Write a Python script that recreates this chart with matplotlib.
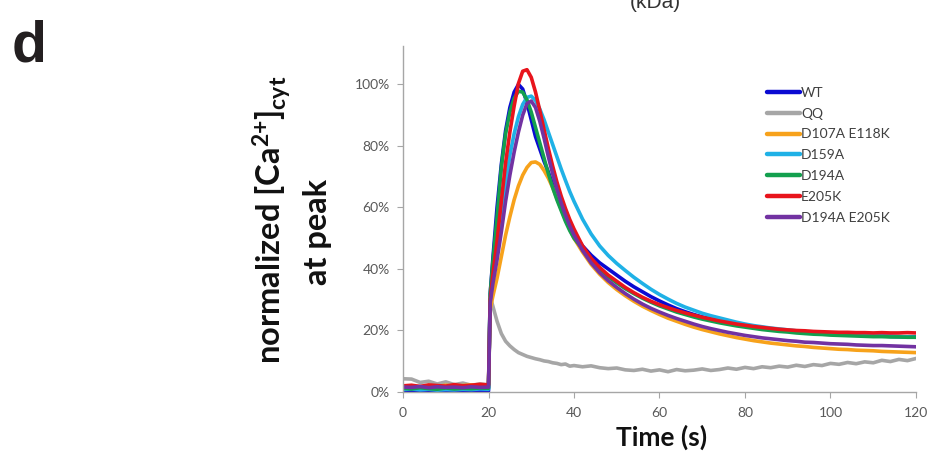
import matplotlib
matplotlib.use("Agg")
import matplotlib.pyplot as plt
from matplotlib.ticker import PercentFormatter, FixedLocator

plt.rcParams["font.family"] = ["Lato", "DejaVu Sans"]
plt.rcParams["mathtext.fontset"] = "custom"
plt.rcParams["mathtext.rm"] = "Lato:bold"
plt.rcParams["mathtext.it"] = "Lato:bold"
plt.rcParams["mathtext.bf"] = "Lato:bold"

# Time points (s)
time_s = [0, 2, 4, 6, 8, 10, 12, 14, 16, 18, 20,
          20.4, 21, 22, 23, 24, 25, 26, 27, 28, 29, 30, 31, 32, 33, 34, 35, 36, 37, 38, 39, 40,
          42, 44, 46, 48, 50, 52, 54, 56, 58, 60, 62, 64, 66, 68, 70, 72, 74, 76, 78, 80,
          82, 84, 86, 88, 90, 92, 94, 96, 98, 100, 102, 104, 106, 108, 110, 112, 114, 116, 118, 120]

# Normalized cytosolic Ca2+ (% of WT peak)
wt = [0.3, 0.2, 0.3, 0.2, 0.3, 0.2, 0.3, 0.2, 0.3, 0.2, 0.3,
      32, 43, 60, 74, 85, 92.5, 97.5, 100, 98.5, 94, 88.5, 83, 79, 75, 71.5, 67.5, 63.5, 60, 57, 54, 51.5,
      47.5, 44.5, 42, 40, 38, 36, 34.2, 32.6, 31, 29.6, 28.3, 27.1, 26.1, 25.2, 24.4, 23.7, 23.1, 22.5, 22, 21.5,
      21.1, 20.7, 20.4, 20.1, 19.8, 19.6, 19.4, 19.2, 19, 18.9, 18.7, 18.6, 18.5, 18.4, 18.3, 18.2, 18.1, 18.0, 17.9, 17.9]

qq = [4.3, 4.2, 3.1, 3.5, 2.6, 3.3, 2.4, 2.9, 2.2, 2.6, 2.3,
      31, 28, 23, 19, 16.5, 15, 13.8, 12.8, 12.2, 11.6, 11.2, 10.8, 10.5, 10.1, 9.9, 9.5, 9.3, 8.9, 9.1, 8.4, 8.6,
      8.2, 8.5, 7.9, 7.6, 7.8, 7.2, 7.0, 7.4, 6.8, 7.2, 6.6, 7.3, 6.9, 7.1, 7.5, 7.0, 7.3, 7.8, 7.4, 8.0,
      7.6, 8.2, 7.9, 8.4, 8.1, 8.7, 8.3, 8.9, 8.6, 9.3, 9.0, 9.6, 9.2, 9.8, 9.5, 10.3, 9.9, 10.6, 10.2, 10.9]

d107a_e118k = [1.8, 2.0, 1.7, 2.1, 1.8, 2.2, 1.9, 2.1, 2.3, 2.0, 2.2,
               27, 31, 37, 44, 51, 57, 62.5, 67, 70.5, 73, 74.6, 74.8, 74, 72, 69.5, 66.5, 63, 59.5, 56, 53, 50,
               45.5, 41.5, 38.3, 35.6, 33.3, 31.3, 29.5, 27.9, 26.5, 25.2, 24, 23, 22, 21.1, 20.3, 19.6, 18.9, 18.3, 17.7, 17.2,
               16.7, 16.3, 15.9, 15.6, 15.3, 15, 14.8, 14.5, 14.3, 14.1, 13.9, 13.8, 13.6, 13.5, 13.4, 13.2, 13.1, 13, 12.9, 12.8]

d159a = [0.8, 1.0, 0.7, 0.9, 0.6, 0.8, 0.7, 0.9, 0.8, 1.0, 0.9,
         30, 37, 46, 56, 67, 77, 84, 89.5, 93.5, 95.8, 96.2, 94.8, 92, 88.5, 84.5, 80.5, 76.5, 72.5, 68.8, 65.2, 62,
         56.2, 51.4, 47.5, 44.4, 41.8, 39.5, 37.3, 35.3, 33.4, 31.7, 30.2, 28.8, 27.6, 26.6, 25.6, 24.8, 24.1, 23.4, 22.7, 22.1,
         21.6, 21.2, 20.8, 20.5, 20.2, 19.9, 19.6, 19.4, 19.2, 19.0, 18.8, 18.7, 18.5, 18.4, 18.3, 18.2, 18.1, 18.0, 17.9, 17.8]

d194a = [1.2, 1.0, 1.4, 1.1, 0.9, 1.3, 1.0, 1.2, 1.1, 1.3, 1.2,
         32, 42, 57, 73, 84, 91, 95.5, 97.8, 97.5, 95, 91, 86, 81, 76, 71, 66.5, 62.5, 59, 55.5, 52.5, 50,
         46.5, 43, 40, 37.5, 35.5, 33.6, 32, 30.5, 29.2, 28, 27, 26, 25.2, 24.4, 23.7, 23.1, 22.5, 22, 21.5, 21.1,
         20.7, 20.3, 20, 19.7, 19.5, 19.2, 19, 18.8, 18.7, 18.5, 18.4, 18.3, 18.2, 18.1, 18, 18, 17.9, 17.9, 17.8, 17.8]

e205k = [2.0, 2.2, 1.8, 2.3, 2.1, 1.9, 2.4, 2.0, 2.2, 2.5, 2.3,
         30, 38, 49, 62, 74.5, 84.5, 93, 100.3, 104.3, 104.8, 102.3, 97.5, 91.5, 85.3, 79.2, 73.5, 68.3, 63.7, 59.7, 56.1, 53,
         47.5, 43.5, 40.5, 38, 36, 34, 32.3, 30.8, 29.5, 28.4, 27.4, 26.5, 25.7, 25, 24.3, 23.7, 23.1, 22.6, 22.1, 21.7,
         21.3, 21, 20.7, 20.4, 20.2, 20, 19.9, 19.7, 19.6, 19.5, 19.4, 19.4, 19.3, 19.3, 19.2, 19.3, 19.2, 19.2, 19.3, 19.2]

d194a_e205k = [1.6, 1.5, 1.8, 1.4, 1.7, 1.5, 1.6, 1.4, 1.7, 1.5, 1.6,
               29, 35, 43, 52, 62, 70.5, 78, 84.5, 90, 93.8, 94.6, 92.5, 88, 82.5, 76.5, 71, 66, 61.5, 57.5, 54, 51,
               46, 42, 38.8, 36.2, 34, 32, 30.2, 28.6, 27.2, 26, 24.9, 23.9, 23, 22.1, 21.3, 20.6, 20, 19.4, 18.9, 18.4,
               18, 17.6, 17.3, 17, 16.7, 16.5, 16.2, 16.1, 15.9, 15.7, 15.6, 15.5, 15.3, 15.2, 15.1, 15.1, 15, 14.9, 14.8, 14.7]

series_names = ["WT", "QQ", "D107A E118K", "D159A", "D194A", "E205K", "D194A E205K"]
series_values = [wt, qq, d107a_e118k, d159a, d194a, e205k, d194a_e205k]
series_colors = ["#0a0ad2", "#a6a6a6", "#f7a21b", "#1fb1e6", "#13a04e", "#e8141c", "#7232a2"]

x_ticks = [0, 20, 40, 60, 80, 100, 120]
y_ticks = [0, 20, 40, 60, 80, 100]

W, H = 933, 453
fig = plt.figure(figsize=(W / 100, H / 100), dpi=100)
ax = fig.add_axes([403 / W, 61 / H, 513 / W, 346 / H])

for name, vals, col in zip(series_names, series_values, series_colors):
    ax.plot(time_s, vals, color=col, lw=2.6, label=name,
            solid_joinstyle="round", solid_capstyle="round")

ax.set_xlim(0, 120)
ax.set_ylim(0, 112.5)
ax.xaxis.set_major_locator(FixedLocator(x_ticks))
ax.yaxis.set_major_locator(FixedLocator(y_ticks))
ax.yaxis.set_major_formatter(PercentFormatter(100, decimals=0))

for side in ("top", "right"):
    ax.spines[side].set_visible(False)
for side in ("left", "bottom"):
    ax.spines[side].set_color("#a6a6a6")
    ax.spines[side].set_linewidth(1.0)
ax.tick_params(direction="out", length=4, width=0.8, color="#a6a6a6",
               labelcolor="#595959", labelsize=10)
ax.tick_params(axis="x", pad=7)
ax.tick_params(axis="y", pad=5.5)

leg = ax.legend(loc="upper left", bbox_to_anchor=(767 / W, 1 - 87 / H),
                bbox_transform=fig.transFigure, frameon=False, fontsize=10,
                handlelength=2.4, handletextpad=0.05, labelspacing=0.63,
                borderpad=0, borderaxespad=0)
for line in leg.get_lines():
    line.set_linewidth(3.2)
for txt in leg.get_texts():
    txt.set_color("#404040")

fig.text(662 / W, 1 - 437 / H, "Time (s)", ha="center", va="center",
         fontsize=19, fontweight="bold", color="#111111")
fig.text(272 / W, 1 - 220 / H, r"normalized [Ca$^{2{+}}$]$_{\mathregular{cyt}}$",
         rotation=90, ha="center", va="center", fontsize=23.5, fontweight="bold",
         color="#111111")
fig.text(318 / W, 1 - 232 / H, "at peak", rotation=90, ha="center", va="center",
         fontsize=23.5, fontweight="bold", color="#111111")

fig.text(12 / W, 1 - 62 / H, "d", ha="left", va="baseline", fontsize=41,
         fontweight="bold", family=["Liberation Sans", "DejaVu Sans"], color="#231f20")
fig.text(655 / W, 1 - 3 / H, "(kDa)", ha="center", va="center", fontsize=15,
         family=["Liberation Sans", "DejaVu Sans"], color="#333333")

fig.savefig("out.png", dpi=100, facecolor="white")
